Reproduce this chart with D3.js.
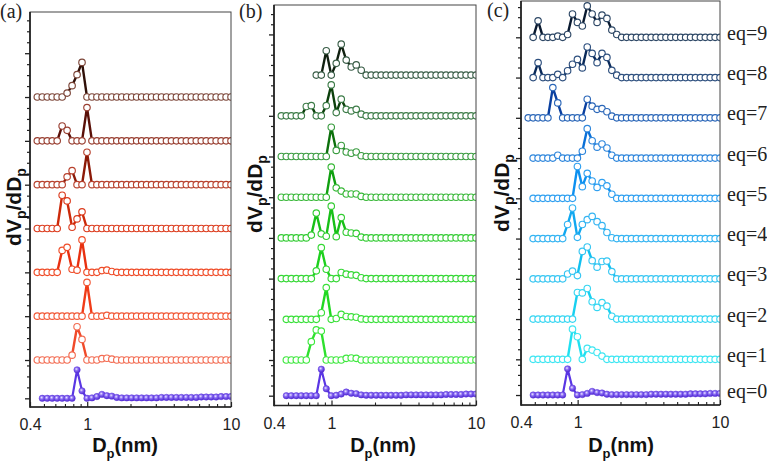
<!DOCTYPE html>
<html><head><meta charset="utf-8">
<script src="https://cdn.jsdelivr.net/npm/d3@7/dist/d3.min.js"></script>
<style>
html,body{margin:0;padding:0;background:#fff;}
svg{display:block;}
</style></head>
<body>
<svg id="chart" width="767" height="461"></svg>
<script>
// ---------- DATA ----------
const diameters = [0.4497,0.4869,0.5273,0.5709,0.6182,0.6694,0.7249,0.7849,0.8499,0.9200,
  0.9962,1.0787,1.1680,1.2648,1.3695,1.4829,1.6058,1.7388,1.8828,2.0387,
  2.2076,2.3904,2.5884,2.8028,3.0349,3.2863,3.5585,3.8532,4.1723,4.5179,
  4.8920,5.2972,5.7360,6.2110,6.7254,7.2825,7.8856,8.5387,9.2459,10.0];

const xTickLabels = [0.4, 1, 10];
const xMinorTicks = [0.5,0.6,0.7,0.8,0.9,2,3,4,5,6,7,8,9];

// eq=0 (shared, filled purple)
const eq0 = [null,0,0,0,0,0,0,0,0.65,0.17,0,0.01,0.04,0.09,0.06,0.05,0.02,0.01,0.01,0.01,
  0.01,0.01,0.01,0.01,0.01,0.02,0.02,0.02,0.02,0.02,0.02,0.02,0.02,0.03,0.03,0.03,0.03,0.04,0.04,0.04];

// panel (a)
const a1 = [0,0,0,0,0,0,0,0.11,0.76,0.47,0,0,0,0.03,0.04,0.02,0,0,0,0, 0,0,0,0,0,0,0,0,0,0,0,0,0,0,0,0,0,0,0,0];
const a2 = [0,0,0,0,0,0,0,0,0,0,0.77,0,0,0,0.02,0,0,0,0,0, 0,0,0,0,0,0,0,0,0,0,0,0,0,0,0,0,0,0,0,0];
const a3 = [0,0,0,0,0,0.50,0.57,0.07,0.05,0.74,0,0,0,0.04,0.05,0.02,0,0,0,0, 0,0,0,0,0,0,0,0,0,0,0,0,0,0,0,0,0,0,0,0];
const a4 = [0,0,0,0,0,0.76,0.63,0.03,0.22,0.38,0,0,0,0,0,0,0,0,0,0, 0,0,0,0,0,0,0,0,0,0,0,0,0,0,0,0,0,0,0,0];
const a5 = [0,0,0,0,0,0,0.18,0.32,0,0,0.74,0,0,0,0,0,0,0,0,0, 0,0,0,0,0,0,0,0,0,0,0,0,0,0,0,0,0,0,0,0];
const a6 = [0,0,0,0,0,0.34,0.24,0,0,0,0.76,0,0,0,0,0,0,0,0,0, 0,0,0,0,0,0,0,0,0,0,0,0,0,0,0,0,0,0,0,0];
const a7 = [0,0,0,0,0,0,0.09,0.26,0.51,0.79,0,0,0,0,0,0,0,0,0,0, 0,0,0,0,0,0,0,0,0,0,0,0,0,0,0,0,0,0,0,0];

// panel (b)
const b1 = [null,0,0,0,0,0,0.45,0.74,0.71,0,0,0,0,0.04,0.05,0.04,0,0,0,0, 0,0,0,0,0,0,0,0,0,0,0,0,0,0,0,0,0,0,0,0];
const b2 = [null,0,0,0,0,0,0,0,0.16,0.78,0,0.02,0.12,0.07,0.06,0.05,0.01,0,0,0, 0,0,0,0,0,0,0,0,0,0,0,0,0,0,0,0,0,0,0,0];
const b3 = [0,0,0,0,0,0,0,0.19,0.76,0.23,0,0,0.15,0.11,0.09,0.08,0.02,0,0,0, 0,0,0,0,0,0,0,0,0,0,0,0,0,0,0,0,0,0,0,0];
const b4 = [0,0,0,0,0,0,0.07,0.61,0.10,0.04,0.78,0.03,0.50,0.14,0.12,0.11,0.02,0,0,0, 0,0,0,0,0,0,0,0,0,0,0,0,0,0,0,0,0,0,0,0];
const b5 = [0,0,0,0,0,0,0,0,0,0,0.74,0.23,0.15,0.08,0.08,0.08,0.02,0,0,0, 0,0,0,0,0,0,0,0,0,0,0,0,0,0,0,0,0,0,0,0];
const b6 = [0,0,0,0,0,0,0,0,0,0,0.72,0.15,0.27,0.11,0.08,0.11,0.02,0,0,0, 0,0,0,0,0,0,0,0,0,0,0,0,0,0,0,0,0,0,0,0];
const b7 = [0,0,0,0,0,0.23,0.25,0,0,0.25,0.76,0.08,0.41,0.16,0.12,0.16,0.04,0,0,0, 0,0,0,0,0,0,0,0,0,0,0,0,0,0,0,0,0,0,0,0];
const b8 = [null,null,null,null,null,null,null,0,0,0.60,0,0.29,0.76,0.37,0.20,0.25,0.12,0,0,0, 0,0,0,0,0,0,0,0,0,0,0,0,0,0,0,0,0,0,0,0];

// panel (c): eq=1 .. eq=9
const c1 = [null,0,0,0,0,0,0,0,0,0.75,0.56,0,0.27,0.23,0.17,0.08,0,0,0,0, 0,0,0,0,0,0,0,0,0,0,0,0,0,0,0,0,0,0,0,0];
const c2 = [null,0,0,0,0,0,0,0,0,0,0.66,0.65,0.76,0.43,0.29,0.41,0.32,0.07,0,0, 0,0,0,0,0,0,0,0,0,0,0,0,0,0,0,0,0,0,0,0];
const c3 = [null,0,0,0,0,0,0,0,0.12,0.19,0.08,0.68,0.79,0.45,0.29,0.43,0.44,0.18,0,0, 0,0,0,0,0,0,0,0,0,0,0,0,0,0,0,0,0,0,0,0];
const c4 = [null,0,0,0,0,0,0,0,0.35,0.76,0.03,0.35,0.47,0.55,0.42,0.32,0.15,0.02,0,0, 0,0,0,0,0,0,0,0,0,0,0,0,0,0,0,0,0,0,0,0];
const c5 = [null,0,0,0,0,0,0,0,0,0,0.79,0.29,0.62,0.43,0.27,0.39,0.31,0.10,0,0, 0,0,0,0,0,0,0,0,0,0,0,0,0,0,0,0,0,0,0,0];
const c6 = [null,0,0,0,0,0,0.07,0,0,0,0,0.17,0.73,0.43,0.27,0.35,0.25,0.07,0,0, 0,0,0,0,0,0,0,0,0,0,0,0,0,0,0,0,0,0,0,0];
const c7 = [0,0,0,0,0,0.75,0.37,0,0,0,0,0,0.46,0.29,0.21,0.23,0.15,0.04,0,0, 0,0,0,0,0,0,0,0,0,0,0,0,0,0,0,0,0,0,0,0];
const c8 = [null,0,0.37,0,0,0,0.08,0,0.17,0.33,0.45,0.24,0.76,0.60,0.37,0.60,0.50,0.18,0.06,0, 0,0,0,0,0,0,0,0,0,0,0,0,0,0,0,0,0,0,0,0];
const c9 = [null,0,0.41,0,0,0,0.03,0,0.07,0.58,0.37,0.28,0.78,0.58,0.37,0.55,0.47,0.18,0.07,0, 0,0,0,0,0,0,0,0,0,0,0,0,0,0,0,0,0,0,0,0];

const eqLabels = ["eq=0","eq=1","eq=2","eq=3","eq=4","eq=5","eq=6","eq=7","eq=8","eq=9"];
const panelLabels = ["(a)","(b)","(c)"];

// offsets of stacked curves (purple first)
const offsetsA = [0,0.874,1.874,2.874,3.874,4.874,5.874,6.874];
const offsetsB = [0,0.877,1.877,2.877,3.877,4.877,5.877,6.877,7.877];
const offsetsC = [0,0.887,1.887,2.887,3.887,4.887,5.887,6.887,7.887,8.887];

// ---------- STYLE ----------
const colA = [null,"#f36c52","#f25836","#ef4b27","#dc3c1e","#b8412d","#993f31","#7c4538"];
const lineA = [null,"#f04a2a","#f03c18","#e83010","#cc2a0a","#8c1a08","#5a1008","#301008"];
const colB = [null,"#3ee83e","#3ae03a","#35d835","#33cc33","#38b838","#3a9c40","#3d7c48","#3a5e48"];
const lineB = [null,"#2ee02e","#22d822","#1ed01e","#18c018","#10a010","#0c700c","#0c400c","#102010"];
const colC = [null,"#3ee6f2","#36d6f2","#36c6f2","#34b4f2","#30a0f0","#2e86dc","#2a66b8","#2d4f7e","#2e4866"];
const lineC = [null,"#20e0f0","#18d0f0","#10c0f0","#10a8f0","#0c90f0","#0a70d8","#0a40a0","#0a2a5a","#0a1a30"];

const panels = [
  {x0:30, x1:231, yTop:12, yBot:407, dom:[-0.198, 8.814], offsets:offsetsA,
   data:[eq0,a1,a2,a3,a4,a5,a6,a7], col:colA, line:lineA,
   label:{x:0,y:18}, yTitle:{x:21,y:207}, xTitle:{x:125}},
  {x0:274, x1:476, yTop:5, yBot:405.5, dom:[-0.241, 9.600], offsets:offsetsB,
   data:[eq0,b1,b2,b3,b4,b5,b6,b7,b8], col:colB, line:lineB,
   label:{x:239,y:18}, yTitle:{x:262,y:194}, xTitle:{x:383}},
  {x0:521, x1:720, yTop:1, yBot:405, dom:[-0.248, 9.789], offsets:offsetsC,
   data:[eq0,c1,c2,c3,c4,c5,c6,c7,c8,c9], col:colC, line:lineC,
   label:{x:487,y:17}, yTitle:{x:509,y:193}, xTitle:{x:621}, eq:true}
];

const svg = d3.select("#chart");
const defs = svg.append("defs");
const grad = defs.append("radialGradient").attr("id","ball").attr("cx","40%").attr("cy","38%").attr("r","65%");
grad.append("stop").attr("offset","0%").attr("stop-color","#ece6ff");
grad.append("stop").attr("offset","40%").attr("stop-color","#8a6cf4");
grad.append("stop").attr("offset","100%").attr("stop-color","#4a22cc");

const sansFont = "'Liberation Sans', Arial, Helvetica, sans-serif";
const serifFont = "'Liberation Serif', 'Times New Roman', serif";

panels.forEach((p, pi) => {
  const x = d3.scaleLog().domain([0.4, 10]).range([p.x0, p.x1]);
  const y = d3.scaleLinear().domain(p.dom).range([p.yBot, p.yTop]);

  const clipId = "clip" + pi;
  defs.append("clipPath").attr("id", clipId).append("rect")
    .attr("x", p.x0).attr("y", p.yTop).attr("width", p.x1 - p.x0).attr("height", p.yBot - p.yTop);

  const g = svg.append("g").attr("clip-path", `url(#${clipId})`);

  p.data.forEach((vals, si) => {
    const off = p.offsets[si];
    const pts = vals.map((v, i) => ({d: diameters[i], v})).filter(o => o.v !== null);
    const lineGen = d3.line().x(o => x(o.d)).y(o => y(off + o.v));
    const isP = si === 0;
    g.append("path").datum(pts).attr("d", lineGen)
      .attr("fill", "none")
      .attr("stroke", isP ? "#5a36e4" : p.line[si])
      .attr("stroke-width", isP ? 2.2 : 2.4)
      .attr("stroke-linejoin", "round");
    const cs = g.append("g").selectAll("circle").data(pts).join("circle")
      .attr("cx", o => x(o.d)).attr("cy", o => y(off + o.v));
    if (isP) {
      cs.attr("r", 3.2).attr("fill", "url(#ball)").attr("stroke", "#5b35dc").attr("stroke-width", 0.5);
    } else {
      cs.attr("r", 3.25).attr("fill", "#fff").attr("stroke", p.col[si]).attr("stroke-width", 1.15);
    }
  });

  // frame
  svg.append("rect").attr("x", p.x0).attr("y", p.yTop).attr("width", p.x1 - p.x0).attr("height", p.yBot - p.yTop)
    .attr("fill", "none").attr("stroke", "#444").attr("stroke-width", 1);
  svg.append("line").attr("x1", p.x0).attr("x2", p.x0).attr("y1", p.yTop).attr("y2", p.yBot + 0.8)
    .attr("stroke", "#222").attr("stroke-width", 1.7);
  svg.append("line").attr("x1", p.x0).attr("x2", p.x1).attr("y1", p.yBot).attr("y2", p.yBot)
    .attr("stroke", "#222").attr("stroke-width", 1.7);

  // x axis major (inward) + labels
  const xMaj = svg.append("g").attr("transform", `translate(0,${p.yBot})`)
    .call(d3.axisBottom(x).tickValues(xTickLabels).tickSize(-5).tickPadding(9)
      .tickFormat(d => String(d)));
  xMaj.select(".domain").remove();
  xMaj.selectAll(".tick line").attr("stroke", "#222").attr("stroke-width", 1.2);
  xMaj.selectAll(".tick text").attr("font-family", sansFont).attr("font-size", 16).attr("fill", "#222")
    .attr("dy", "0.9em");
  const xMin = svg.append("g").attr("transform", `translate(0,${p.yBot})`)
    .call(d3.axisBottom(x).tickValues(xMinorTicks).tickSize(-3).tickFormat(""));
  xMin.select(".domain").remove();
  xMin.selectAll(".tick line").attr("stroke", "#222").attr("stroke-width", 1.1);

  // y axis ticks (outward)
  const majors = p.offsets.slice();
  const minors = [];
  for (let t = 0.25; t < p.offsets[1] - 0.05; t += 0.25) minors.push(t);
  for (let t = p.offsets[1] + 0.25; t <= p.dom[1]; t += 0.25) {
    if (Math.abs((t - p.offsets[1]) % 1) > 0.01 && Math.abs((t - p.offsets[1]) % 1 - 1) > 0.01) minors.push(t);
    else if (!majors.some(m => Math.abs(m - t) < 0.01)) majors.push(t);
  }
  const yMaj = svg.append("g").attr("transform", `translate(${p.x0},0)`)
    .call(d3.axisLeft(y).tickValues(majors).tickSize(5).tickFormat(""));
  yMaj.select(".domain").remove();
  yMaj.selectAll(".tick line").attr("stroke", "#222").attr("stroke-width", 1.3);
  const yMin = svg.append("g").attr("transform", `translate(${p.x0},0)`)
    .call(d3.axisLeft(y).tickValues(minors).tickSize(3).tickFormat(""));
  yMin.select(".domain").remove();
  yMin.selectAll(".tick line").attr("stroke", "#222").attr("stroke-width", 1.2);

  // panel label
  svg.append("text").attr("x", p.label.x).attr("y", p.label.y)
    .attr("font-family", serifFont).attr("font-size", 20).attr("fill", "#222").text(panelLabels[pi]);

  // y title
  const yt = svg.append("text")
    .attr("transform", `translate(${p.yTitle.x},${p.yTitle.y}) rotate(-90)`)
    .attr("text-anchor", "middle").attr("font-family", sansFont).attr("font-weight", "bold")
    .attr("font-size", 21).attr("fill", "#111");
  yt.append("tspan").text("dV");
  yt.append("tspan").attr("font-size", 14).attr("dy", 5).text("p");
  yt.append("tspan").attr("dy", -5).text("/dD");
  yt.append("tspan").attr("font-size", 14).attr("dy", 5).text("p");

  // x title
  const xt = svg.append("text").attr("x", p.xTitle.x).attr("y", 452)
    .attr("text-anchor", "middle").attr("font-family", sansFont).attr("font-weight", "bold")
    .attr("font-size", 20).attr("fill", "#111");
  xt.append("tspan").text("D");
  xt.append("tspan").attr("font-size", 13).attr("dy", 6).text("p");
  xt.append("tspan").attr("dy", -6).text("(nm)");

  // eq labels
  if (p.eq) {
    p.offsets.forEach((off, si) => {
      svg.append("text").attr("x", 727).attr("y", y(off) + 2.5)
        .attr("font-family", serifFont).attr("font-size", 20).attr("fill", "#222")
        .text(eqLabels[si]);
    });
  }
});
</script>
</body></html>
